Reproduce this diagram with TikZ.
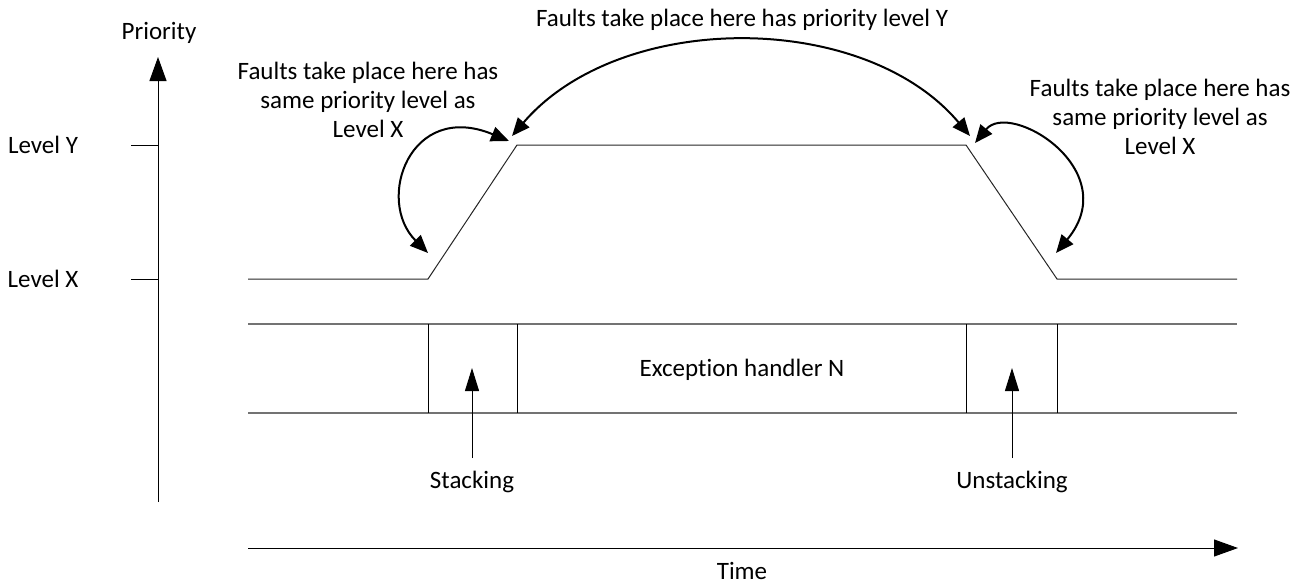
\documentclass[tikz,border=0pt]{standalone}
\usepackage{fontspec}
\setmainfont{Carlito}[Ligatures=NoCommon]
\usetikzlibrary{arrows.meta}
\begin{document}
\begin{tikzpicture}[x=1pt,y=-1pt,
  lbl/.style={font=\fontsize{25}{29}\selectfont, inner sep=0pt, align=center},
  axisline/.style={line width=1pt, black},
  bigtip/.style={-{Triangle[length=24pt,width=17pt]}},
  smalltip/.style={-{Triangle[length=23pt,width=14pt]}},
  arcarrow/.style={line width=2pt, {Triangle[length=18pt,width=15pt]}-{Triangle[length=18pt,width=15pt]}},
  prio/.style={line width=1pt, black!85},
  band/.style={line width=1.5pt, black!55},
  divider/.style={line width=1pt, black}]
\useasboundingbox (0,0) rectangle (1301,584);
% vertical axis
\coordinate (vbot) at (158,502);
\coordinate (vtop) at (158,57);
\draw[axisline,bigtip] (vbot) -- (vtop);
\node[lbl] (prio) at (159,33) {Priority};
\coordinate (ty1) at (131,145); \coordinate (ty2) at (158,145);
\coordinate (tx1) at (131,279); \coordinate (tx2) at (158,279);
\draw[axisline] (ty1) -- (ty2);
\draw[axisline] (tx1) -- (tx2);
\node[lbl] (lvy) at (43,145) {Level Y};
\node[lbl] (lvx) at (43,279) {Level X};
% priority curve
\coordinate (p0) at (248,279);
\coordinate (p1) at (428,279);
\coordinate (p2) at (517,145);
\coordinate (p3) at (966,145);
\coordinate (p4) at (1057,279);
\coordinate (p5) at (1237,279);
\draw[prio] (p0) -- (p1) -- (p2) -- (p3) -- (p4) -- (p5);
% band
\coordinate (b1l) at (248,324); \coordinate (b1r) at (1237,324);
\coordinate (b2l) at (248,413); \coordinate (b2r) at (1237,413);
\draw[band] (b1l) -- (b1r);
\draw[band] (b2l) -- (b2r);
\foreach \x/\n in {428/a,517/b,966/c,1057/d}{
  \coordinate (d\n t) at (\x,324); \coordinate (d\n b) at (\x,413);
  \draw[divider] (d\n t) -- (d\n b);
}
\node[lbl] (exc) at (742,370) {Exception handler N};
% stacking arrows
\coordinate (st0) at (472,458); \coordinate (st1) at (472,368);
\draw[divider,smalltip] (st0) -- (st1);
\node[lbl] (stk) at (472,482) {Stacking};
\coordinate (us0) at (1012,458); \coordinate (us1) at (1012,368);
\draw[divider,smalltip] (us0) -- (us1);
\node[lbl] (ustk) at (1012,482) {Unstacking};
% time axis
\coordinate (t0) at (248,548); \coordinate (t1) at (1238,548);
\draw[axisline,bigtip] (t0) -- (t1);
\node[lbl] (time) at (742,571) {Time};
% texts
\node[lbl] (ftop) at (742,20) {Faults take place here has priority level Y};
\node[lbl] (fleft) at (368,100) {Faults take place here has\\same priority level as\\Level X};
\node[lbl] (fright) at (1160,117) {Faults take place here has\\same priority level as\\Level X};
% big arc
\coordinate (ba1) at (512,136);
\coordinate (ba2) at (970,136);
\draw[arcarrow] (ba1) .. controls (620,10) and (864,10) .. (ba2);
% left small arc
\coordinate (la1) at (509,141);
\coordinate (la2) at (428,253);
\draw[arcarrow] (la2) .. controls (375,200) and (410,100) .. (la1);
% right small arc
\coordinate (ra1) at (975,143);
\coordinate (ra2) at (1056,253);
\draw[arcarrow] (ra1) .. controls (1010,100) and (1125,170) .. (ra2);
\end{tikzpicture}
\end{document}
